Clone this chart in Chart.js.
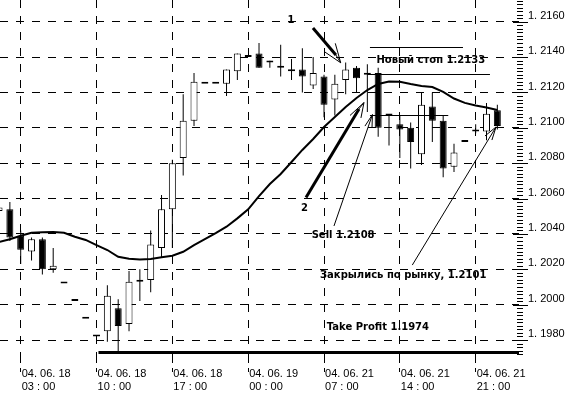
<!DOCTYPE html>
<html>
<head>
<meta charset="utf-8">
<title>EURUSD H1</title>
<script src="https://cdn.jsdelivr.net/npm/chart.js@4.4.1/dist/chart.umd.min.js"></script>
<style>
  html, body { margin: 0; padding: 0; background: #fff; overflow: hidden; }
  canvas { display: block; }
</style>
</head>
<body>
<canvas id="chart" width="571" height="394"></canvas>
<script>
// hourly bars, numbered from the 04.06.18 03:00 bar (= 0)
const firstBar = -2;
const opens  = [1.2053, 1.2054, 1.2039, 1.2030, 1.2037, 1.2020, 1.2012, 1.2002, 1.1992, 1.1982,
                1.1985, 1.1998, 1.1989, 1.2013, 1.2014, 1.2032, 1.2054, 1.2083, 1.2104, 1.2125,
                1.2125, 1.2125, 1.2132, 1.2141, 1.2142, 1.2137, 1.2134, 1.2132, 1.2133, 1.2124,
                1.2129, 1.2116, 1.2127, 1.2134, 1.2130, 1.2131, 1.2107, 1.2102, 1.2100, 1.2085,
                1.2112, 1.2104, 1.2078, 1.2092, 1.2099, 1.2098, 1.2110];
const highs  = [1.2056, 1.2058, 1.2042, 1.2038, 1.2038, 1.2032, 1.2012, 1.2002, 1.1992, 1.1982,
                1.2011, 1.2003, 1.2019, 1.2020, 1.2042, 1.2062, 1.2082, 1.2119, 1.2131, 1.2125,
                1.2125, 1.2133, 1.2142, 1.2141, 1.2148, 1.2138, 1.2147, 1.2139, 1.2145, 1.2140,
                1.2130, 1.2130, 1.2137, 1.2135, 1.2136, 1.2134, 1.2107, 1.2107, 1.2103, 1.2120,
                1.2120, 1.2107, 1.2091, 1.2092, 1.2102, 1.2114, 1.2113];
const lows   = [1.2052, 1.2036, 1.2023, 1.2025, 1.2017, 1.2018, 1.2012, 1.2002, 1.1992, 1.1982,
                1.1979, 1.1973, 1.1985, 1.2002, 1.2007, 1.2027, 1.2032, 1.2073, 1.2101, 1.2125,
                1.2125, 1.2118, 1.2127, 1.2140, 1.2134, 1.2134, 1.2129, 1.2127, 1.2120, 1.2122,
                1.2106, 1.2107, 1.2119, 1.2120, 1.2109, 1.2095, 1.2090, 1.2083, 1.2077, 1.2079,
                1.2092, 1.2072, 1.2075, 1.2092, 1.2097, 1.2093, 1.2099];
const closes = [1.2055, 1.2038, 1.2031, 1.2037, 1.2020, 1.2022, 1.2012, 1.2002, 1.1992, 1.1982,
                1.2005, 1.1988, 1.2013, 1.2014, 1.2034, 1.2054, 1.2080, 1.2104, 1.2126, 1.2125,
                1.2125, 1.2133, 1.2142, 1.2140, 1.2134, 1.2138, 1.2134, 1.2133, 1.2129, 1.2131,
                1.2113, 1.2125, 1.2133, 1.2128, 1.2130, 1.2100, 1.2107, 1.2099, 1.2092, 1.2113,
                1.2104, 1.2077, 1.2086, 1.2092, 1.2098, 1.2108, 1.2101];
// moving average, one value per bar
const maValues = [1.20354, 1.20370, 1.20390, 1.20407, 1.20409, 1.20411, 1.20407, 1.20384, 1.20366, 1.20337,
                  1.20309, 1.20271, 1.20260, 1.20256, 1.20258, 1.20268, 1.20277, 1.20299, 1.20337, 1.20370,
                  1.20404, 1.20441, 1.20488, 1.20539, 1.20614, 1.20682, 1.20739, 1.20807, 1.20875, 1.20937,
                  1.21005, 1.21061, 1.21118, 1.21169, 1.21214, 1.21248, 1.21262, 1.21261, 1.21248, 1.21237,
                  1.21231, 1.21203, 1.21166, 1.21141, 1.21126, 1.21115, 1.21101];

const timeTickBars = [0, 7, 14, 21, 28, 35, 42];
const timeTickLabels = [
    ['04. 06. 18', '03 : 00'],
    ['04. 06. 18', '10 : 00'],
    ['04. 06. 18', '17 : 00'],
    ['04. 06. 19', '00 : 00'],
    ['04. 06. 21', '07 : 00'],
    ['04. 06. 21', '14 : 00'],
    ['04. 06. 21', '21 : 00']
];
const priceTicks = [1.1980, 1.2000, 1.2020, 1.2040, 1.2060, 1.2080, 1.2100, 1.2120, 1.2140, 1.2160];
const priceTickLabels = ['1. 1980', '1. 2000', '1. 2020', '1. 2040', '1. 2060',
                         '1. 2080', '1. 2100', '1. 2120', '1. 2140', '1. 2160'];

// horizontal levels drawn on the chart (price, from bar, to bar)
const takeProfit = { price: 1.1973, from: 7.18, to: 46 };
const levels = [
    { price: 1.21457, from: 32.24, to: 40.83 },
    { price: 1.21306, from: 31.99, to: 43.32 },
    { price: 1.21073, from: 32.24, to: 39.47 }
];

// arrows: [bar, price] points; heavy part first, then the thin head
const arrows = [
    { heavy: [[26.98, 1.21565], [29.10, 1.21412]], tip: [29.54, 1.21368], barbs: [[28.03, 1.21431], [29.04, 1.21478]] },
    { heavy: [[26.34, 1.20606], [31.23, 1.21107]], tip: [31.69, 1.21143], barbs: [[30.40, 1.21070], [31.41, 1.21056]] },
    { heavy: null, from: [28.92, 1.20445], tip: [32.47, 1.21075], barbs: [[31.78, 1.21010], [32.43, 1.20999]] },
    { heavy: null, from: [36.15, 1.20224], tip: [43.88, 1.21005], barbs: [[42.86, 1.20954], [43.50, 1.20931]] }
];

const notes = [
    { text: '1', bar: 24.95, price: 1.21608, align: 'center' },
    { text: '2', bar: 26.20, price: 1.20545, align: 'center' },
    { text: 'Sell 1.2108', bar: 26.86, price: 1.20391 },
    { text: 'Закрылись по рынку, 1.2101', bar: 27.63, price: 1.20168 },
    { text: 'Take Profit 1.1974', bar: 28.25, price: 1.19871 },
    { text: 'Новый стоп 1.2133', bar: 32.84, price: 1.21384 }
];

const wickData = [], bodyData = [], bodyColors = [], maData = [];
for (let i = 0; i < opens.length; i++) {
    const bar = firstBar + i;
    wickData.push({ x: bar, y: [lows[i], highs[i]] });
    bodyData.push({ x: bar, y: [opens[i], closes[i]] });
    bodyColors.push(closes[i] >= opens[i] ? '#ffffff' : '#000000');
    maData.push({ x: bar, y: maValues[i] });
}

const decorations = {
    id: 'decorations',
    afterDatasetsDraw(chart) {
        const { ctx, scales: { x, y } } = chart;
        const pt = p => [x.getPixelForValue(p[0]), y.getPixelForValue(p[1])];
        const seg = (a, b, w) => {
            ctx.lineWidth = w;
            ctx.beginPath();
            ctx.moveTo(a[0], a[1]);
            ctx.lineTo(b[0], b[1]);
            ctx.stroke();
        };
        ctx.save();
        ctx.strokeStyle = '#000';
        ctx.fillStyle = '#000';

        // thin levels
        for (const l of levels) {
            const yy = Math.round(y.getPixelForValue(l.price)) + 0.5;
            seg([x.getPixelForValue(l.from), yy], [x.getPixelForValue(l.to), yy], 1);
        }
        // take profit line
        const tpY = y.getPixelForValue(takeProfit.price);
        seg([x.getPixelForValue(takeProfit.from), tpY], [x.getPixelForValue(takeProfit.to), tpY], 3);

        // arrows
        for (const a of arrows) {
            const tip = pt(a.tip);
            if (a.heavy) {
                seg(pt(a.heavy[0]), pt(a.heavy[1]), 3);
                seg(pt(a.heavy[1]), tip, 1);
            } else {
                seg(pt(a.from), tip, 1);
            }
            for (const b of a.barbs) seg(tip, pt(b), 1);
        }

        // labels
        ctx.font = 'bold 10px "DejaVu Sans"';
        ctx.textBaseline = 'middle';
        for (const n of notes) {
            ctx.textAlign = n.align || 'left';
            ctx.fillText(n.text, x.getPixelForValue(n.bar), y.getPixelForValue(n.price));
        }
        ctx.restore();
    },
    afterDraw(chart) {
        // price scale ticks: long every 20 pips, short every 2 pips
        const { ctx, scales: { y }, chartArea } = chart;
        const step = 0.0002;
        ctx.save();
        ctx.strokeStyle = '#000';
        ctx.lineWidth = 1;
        for (let k = Math.ceil(y.min / step); k <= Math.floor(y.max / step); k++) {
            const yy = Math.round(y.getPixelForValue(k * step)) + 0.5;
            const major = k % 10 === 0;
            ctx.beginPath();
            ctx.moveTo(chartArea.right + (major ? -6 : -2), yy);
            ctx.lineTo(chartArea.right + (major ? 9 : 4), yy);
            ctx.stroke();
        }
        ctx.restore();
    }
};

const axisFont = { family: '"Liberation Sans", Arial, sans-serif', size: 11, lineHeight: 1.155 };

new Chart(document.getElementById('chart'), {
    type: 'bar',
    data: {
        datasets: [
            {
                type: 'line',
                data: maData,
                borderColor: '#000',
                borderWidth: 2,
                pointRadius: 0,
                tension: 0,
                order: 1
            },
            {
                data: bodyData,
                backgroundColor: bodyColors,
                borderColor: '#000',
                borderWidth: 1,
                borderSkipped: false,
                inflateAmount: 0,
                barThickness: 7,
                minBarLength: 2,
                grouped: false,
                order: 2
            },
            {
                data: wickData,
                backgroundColor: '#000',
                borderWidth: 0,
                inflateAmount: 0,
                barThickness: 1,
                grouped: false,
                order: 3
            }
        ]
    },
    options: {
        responsive: false,
        animation: false,
        events: [],
        layout: { padding: 0 },
        plugins: { legend: { display: false }, tooltip: { enabled: false } },
        scales: {
            x: {
                type: 'linear',
                min: -1.911,
                max: 46,
                offset: false,
                afterBuildTicks: s => { s.ticks = timeTickBars.map(v => ({ value: v })); },
                afterFit: s => { s.height = 37; s.paddingLeft = 0; s.paddingRight = 0; },
                grid: {
                    offset: false,
                    color: '#000',
                    lineWidth: 1,
                    drawTicks: true,
                    tickLength: 15,
                    tickColor: '#000',
                    tickWidth: 1,
                    tickBorderDash: [6, 5]
                },
                border: { display: false, dash: [8, 8] },
                ticks: {
                    autoSkip: false,
                    maxRotation: 0,
                    align: 'start',
                    padding: -4,
                    labelOffset: 1,
                    color: '#000',
                    font: axisFont,
                    callback: (v, i) => timeTickLabels[i]
                }
            },
            y: {
                type: 'linear',
                position: 'right',
                min: 1.19704,
                max: 1.21723,
                afterBuildTicks: s => { s.ticks = priceTicks.map(v => ({ value: v })); },
                afterFit: s => { s.width = 52; s.paddingTop = 0; s.paddingBottom = 0; },
                grid: { color: '#000', lineWidth: 1, drawTicks: false },
                border: { display: false, dash: [8, 8] },
                ticks: {
                    padding: 9,
                    labelOffset: -6,
                    color: '#000',
                    font: { family: '"Liberation Sans", Arial, sans-serif', size: 11 },
                    callback: (v, i) => priceTickLabels[i]
                }
            }
        }
    },
    plugins: [decorations]
});
</script>
</body>
</html>
